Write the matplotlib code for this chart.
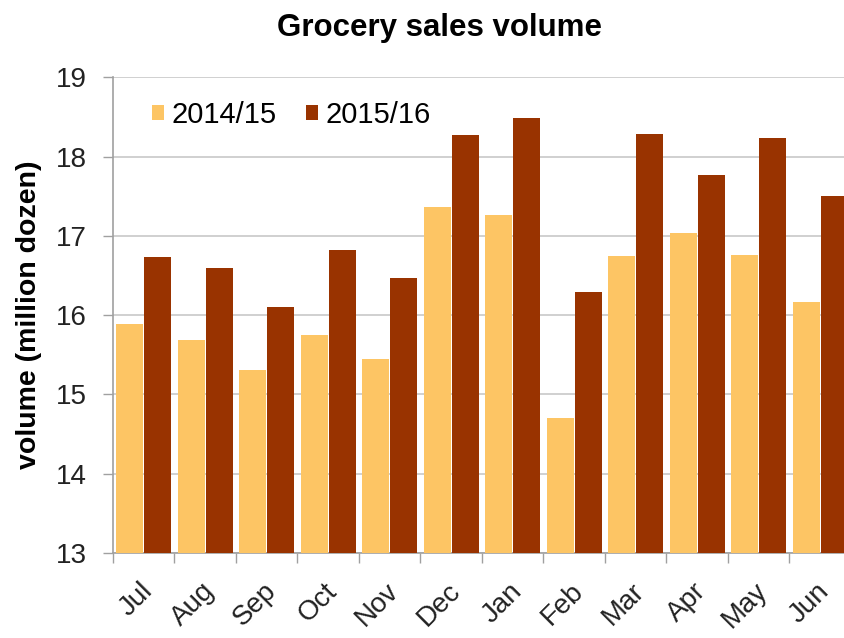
import matplotlib
matplotlib.use("Agg")
import matplotlib.pyplot as plt
import matplotlib.transforms as mtransforms
import numpy as np

months = ["Jul", "Aug", "Sep", "Oct", "Nov", "Dec", "Jan", "Feb", "Mar", "Apr", "May", "Jun"]
series_names = ["2014/15", "2015/16"]
sales_2014_15 = [15.89, 15.69, 15.31, 15.75, 15.45, 17.37, 17.26, 14.70, 16.75, 17.03, 16.76, 16.16]
sales_2015_16 = [16.73, 16.60, 16.10, 16.82, 16.47, 18.27, 18.49, 16.29, 18.29, 17.77, 18.23, 17.50]
y_ticks = [13, 14, 15, 16, 17, 18, 19]

plt.rcParams['font.family'] = ['Liberation Sans', 'DejaVu Sans']

fig = plt.figure(figsize=(8.45, 6.38), dpi=100)
ax = fig.add_axes([113/845, 1-553/638, (851-113)/845, (553-77.3)/638])

x = np.arange(len(months))
w = 0.44
c1 = "#FDC564"
c2 = "#993300"
ax.bar(x - 0.225, sales_2014_15, width=w, color=c1, label=series_names[0], zorder=3)
ax.bar(x + 0.225, sales_2015_16, width=w, color=c2, label=series_names[1], zorder=3)

ax.set_ylim(13, 19)
ax.set_xlim(-0.5, 11.5)
ax.set_yticks(y_ticks)
ax.set_yticklabels([str(t) for t in y_ticks], fontsize=20, color="#222222")
ax.yaxis.grid(True, color="#C8C8C8", linewidth=1.2, zorder=0)
ax.set_axisbelow(True)

ax.set_xticks(x)
ax.set_xticklabels(months, rotation=45, ha="right", va="top", rotation_mode="anchor",
                   fontsize=20, color="#222222")
ax.set_xticks(np.arange(-0.5, 12, 1), minor=True)
ax.tick_params(axis="x", which="major", length=0, pad=18)
ax.tick_params(axis="x", which="minor", length=7, color="#A0A0A0", width=1)
ax.tick_params(axis="y", length=7, color="#A0A0A0", width=1, pad=12)

shift = mtransforms.ScaledTranslation(-4/100, 0, fig.dpi_scale_trans)
for lbl in ax.get_xticklabels():
    lbl.set_transform(lbl.get_transform() + shift)

for s in ["top", "right"]:
    ax.spines[s].set_visible(False)
for s in ["left", "bottom"]:
    ax.spines[s].set_color("#A0A0A0")
    ax.spines[s].set_linewidth(1.2)

ax.set_ylabel("volume (million dozen)", fontsize=20.5, fontweight="bold")
ax.yaxis.set_label_coords((42 - 113) / 738, 0.5)
fig.text(440/845, 1-28/638, "Grocery sales volume", fontsize=22.5, fontweight="bold",
         ha="center", va="center")

leg = ax.legend(loc="upper left", bbox_to_anchor=(0.017, 1.005), ncol=2, frameon=False,
                fontsize=21, handlelength=0.42, handleheight=0.42, handletextpad=0.25,
                columnspacing=1.0)

fig.savefig("out.png", dpi=100)
